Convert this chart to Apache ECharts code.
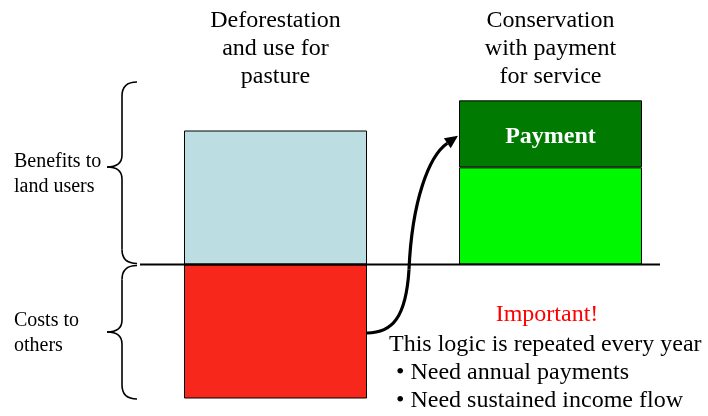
<!DOCTYPE html>
<html><head><meta charset="utf-8">
<script src="https://cdn.jsdelivr.net/npm/echarts@6/dist/echarts.min.js"></script>
<style>html,body{margin:0;padding:0;background:#fff}#c{width:708px;height:416px}</style>
</head><body><div id="c"></div>
<script>
const categories = ['Deforestation\nand use for\npasture', 'Conservation\nwith payment\nfor service'];
const benefitsToLandUsers = [2.0, 1.45];
const costsToOthers = [-2.0, '-'];
const payment = ['-', 1.0];
const sideLabels = ['Benefits to\nland users', 'Costs to\nothers'];
const noteTitle = 'Important!';
const noteLines = ['This logic is repeated every year', '• Need annual payments', '• Need sustained income flow'];

const FONT = '"Liberation Serif", "DejaVu Serif", serif';
const chart = echarts.init(document.getElementById('c'), null, {renderer: 'canvas'});
chart.setOption({
  animation: false,
  backgroundColor: '#fff',
  grid: {left: 138, right: 20, top: 97, bottom: 17.5},
  xAxis: {
    type: 'category', data: categories, position: 'top',
    axisLine: {show: false}, axisTick: {show: false},
    axisLabel: {fontFamily: FONT, fontSize: 24, lineHeight: 28, color: '#000', margin: 6, interval: 0}
  },
  yAxis: {type: 'value', min: -2, max: 2.5, show: false, splitLine: {show: false}},
  series: [
    {name: 'Benefits to land users', type: 'bar', stack: 'a', barWidth: 183, data: benefitsToLandUsers.map((v, i) => ({value: v, itemStyle: {color: i === 0 ? '#BCDEE2' : '#00F800'}})),
     itemStyle: {borderColor: '#000', borderWidth: 1}},
    {name: 'Costs to others', type: 'bar', stack: 'a', barWidth: 183, data: costsToOthers,
     itemStyle: {color: '#F8271B', borderColor: '#000', borderWidth: 1}},
    {name: 'Payment', type: 'bar', stack: 'a', barWidth: 183, data: payment,
     itemStyle: {color: '#007A00', borderColor: '#000', borderWidth: 1},
     label: {show: true, position: 'inside', offset: [0, 3], formatter: 'Payment', color: '#fff', fontFamily: FONT, fontWeight: 'bold', fontSize: 24}}
  ]
});

const yp = v => chart.convertToPixel({yAxisIndex: 0}, v);
const xp = i => chart.convertToPixel({xAxisIndex: 0}, i);
const y0 = yp(0), half = 183 / 2;
const x0r = xp(0) + half, x1l = xp(1) - half;
const sy = y0 + 68.5, ey = yp(1.92);
const ex = x1l - 1;
const cx2 = x0r + 62, cy2 = ey + 20;
const ang = Math.atan2(ey - cy2, ex - cx2);
const hl = 13, hw = 6;
const bx = ex - hl * Math.cos(ang), by = ey - hl * Math.sin(ang);
const px = -Math.sin(ang), py = Math.cos(ang);

const BR = {stroke: '#000', lineWidth: 1.6, fill: null};
function brace(top, tip, bottom) {
  const xr = 137, xm = 122, xt = 107;
  return [
    {type: 'bezierCurve', shape: {x1: xr, y1: top, cpx1: xm, cpy1: top, x2: xm, y2: top + 14}, style: BR},
    {type: 'line', shape: {x1: xm, y1: top + 14, x2: xm, y2: tip - 12}, style: BR},
    {type: 'bezierCurve', shape: {x1: xm, y1: tip - 12, cpx1: xm, cpy1: tip, x2: xt, y2: tip}, style: BR},
    {type: 'bezierCurve', shape: {x1: xt, y1: tip, cpx1: xm, cpy1: tip, x2: xm, y2: tip + 12}, style: BR},
    {type: 'line', shape: {x1: xm, y1: tip + 12, x2: xm, y2: bottom - 14}, style: BR},
    {type: 'bezierCurve', shape: {x1: xm, y1: bottom - 14, cpx1: xm, cpy1: bottom, x2: xr, y2: bottom}, style: BR}
  ];
}
const AR = {stroke: '#000', lineWidth: 3.2, fill: null};

chart.setOption({
  graphic: [
    {type: 'line', shape: {x1: 140, y1: y0, x2: 660, y2: y0}, style: {stroke: '#000', lineWidth: 2}, z: 10},
    ...brace(82, 167, y0 - 1),
    ...brace(y0 + 1, 332, 399),
    {type: 'bezierCurve', z: 20, shape: {x1: x0r, y1: sy, cpx1: x0r + 25, cpy1: sy, cpx2: x0r + 39, cpy2: sy - 15, x2: x0r + 42, y2: y0 + 5}, style: AR},
    {type: 'bezierCurve', z: 20, shape: {x1: x0r + 42, y1: y0 + 5, cpx1: x0r + 45, cpy1: y0 - 64, cpx2: cx2, cpy2: cy2, x2: bx, y2: by}, style: AR},
    {type: 'polygon', z: 20, shape: {points: [[ex, ey], [bx + px * hw, by + py * hw], [bx - px * hw, by - py * hw]]}, style: {fill: '#000'}},
    {type: 'text', left: 14, top: 149, style: {text: sideLabels[0], font: '20px ' + FONT, lineHeight: 25, fill: '#000'}},
    {type: 'text', left: 14, top: 308, style: {text: sideLabels[1], font: '20px ' + FONT, lineHeight: 25, fill: '#000'}},
    {type: 'text', x: 547, y: 315, style: {text: noteTitle, font: '24px ' + FONT, fill: '#FF0000', align: 'center', verticalAlign: 'middle'}},
    {type: 'text', x: 389, y: 345, style: {text: noteLines[0], font: '24px ' + FONT, fill: '#000', align: 'left', verticalAlign: 'middle'}},
    {type: 'text', x: 396, y: 373, style: {text: noteLines[1], font: '24px ' + FONT, fill: '#000', align: 'left', verticalAlign: 'middle'}},
    {type: 'text', x: 396, y: 401, style: {text: noteLines[2], font: '24px ' + FONT, fill: '#000', align: 'left', verticalAlign: 'middle'}}
  ]
});
</script></body></html>
